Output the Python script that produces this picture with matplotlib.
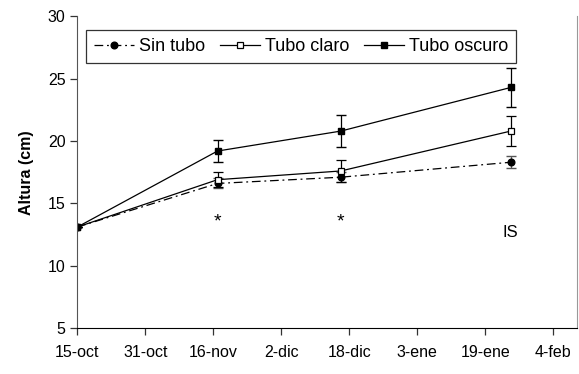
import numpy as np
import matplotlib
matplotlib.use("Agg")
import matplotlib.pyplot as plt
from matplotlib.lines import Line2D

plt.rcParams['font.family'] = ['Liberation Sans', 'DejaVu Sans']

# days after 15-oct
dias = [0, 33, 62, 102]
sin_tubo = [13.1, 16.6, 17.1, 18.3]
sin_tubo_err = [0, 0.4, 0.4, 0.5]
tubo_claro = [13.1, 16.9, 17.6, 20.8]
tubo_claro_err = [0, 0.6, 0.9, 1.2]
tubo_oscuro = [13.1, 19.2, 20.8, 24.3]
tubo_oscuro_err = [0, 0.9, 1.3, 1.6]

tick_dias = [0, 16, 32, 48, 64, 80, 96, 112]
tick_labels = ['15-oct', '31-oct', '16-nov', '2-dic', '18-dic', '3-ene', '19-ene', '4-feb']

fig = plt.figure(figsize=(5.79, 3.74), dpi=100)
ax = fig.add_axes([0.1335, 0.123, 0.863, 0.833])

dashdot = (0, (7, 3, 1.5, 3))
ax.errorbar(dias, sin_tubo, yerr=sin_tubo_err, fmt='o', color='black', ecolor='#555555',
            ls=dashdot, lw=0.9, ms=4.8, capsize=3.5, elinewidth=0.9)
ax.errorbar(dias, tubo_claro, yerr=tubo_claro_err, fmt='s', color='black', mfc='white',
            ls='-', lw=0.9, ms=4.8, capsize=3.5, elinewidth=0.9, mew=0.9)
ax.errorbar(dias, tubo_oscuro, yerr=tubo_oscuro_err, fmt='s', color='black',
            ls='-', lw=0.9, ms=5.0, capsize=3.5, elinewidth=0.9)

ax.text(dias[1], 13.5, '*', ha='center', va='center', fontsize=14)
ax.text(dias[2], 13.5, '*', ha='center', va='center', fontsize=14)
ax.text(dias[3], 12.65, 'IS', ha='center', va='center', fontsize=12)

ax.set_xlim(0, 117.6)
ax.set_ylim(5, 30)
ax.set_yticks([5, 10, 15, 20, 25, 30])
ax.set_xticks(tick_dias)
ax.set_xticklabels(tick_labels)
ax.tick_params(axis='both', direction='out', length=5, width=0.9, labelsize=11.5, color='#333333')
ax.tick_params(axis='x', pad=7)
ax.set_ylabel('Altura (cm)', fontsize=11.5, fontweight='bold', labelpad=10)

ax.spines['top'].set_visible(False)
ax.spines['right'].set_color('#999999')
ax.spines['left'].set_color('#555555')
ax.spines['bottom'].set_color('black')

handles = [
    Line2D([], [], color='black', ls=dashdot, lw=0.9, marker='o', ms=4.8),
    Line2D([], [], color='black', ls='-', lw=0.9, marker='s', ms=4.8, mfc='white', mew=0.9),
    Line2D([], [], color='black', ls='-', lw=0.9, marker='s', ms=5.0),
]
leg = ax.legend(handles, ['Sin tubo', 'Tubo claro', 'Tubo oscuro'],
                loc='upper left', bbox_to_anchor=(0.0174, 0.957), ncol=3, fontsize=13,
                frameon=True, fancybox=False, handlelength=2.2, handletextpad=0.3,
                columnspacing=0.8, borderpad=0.45, borderaxespad=0)
leg.get_frame().set_edgecolor('black')
leg.get_frame().set_linewidth(0.9)

fig.savefig('out.png', dpi=100)
